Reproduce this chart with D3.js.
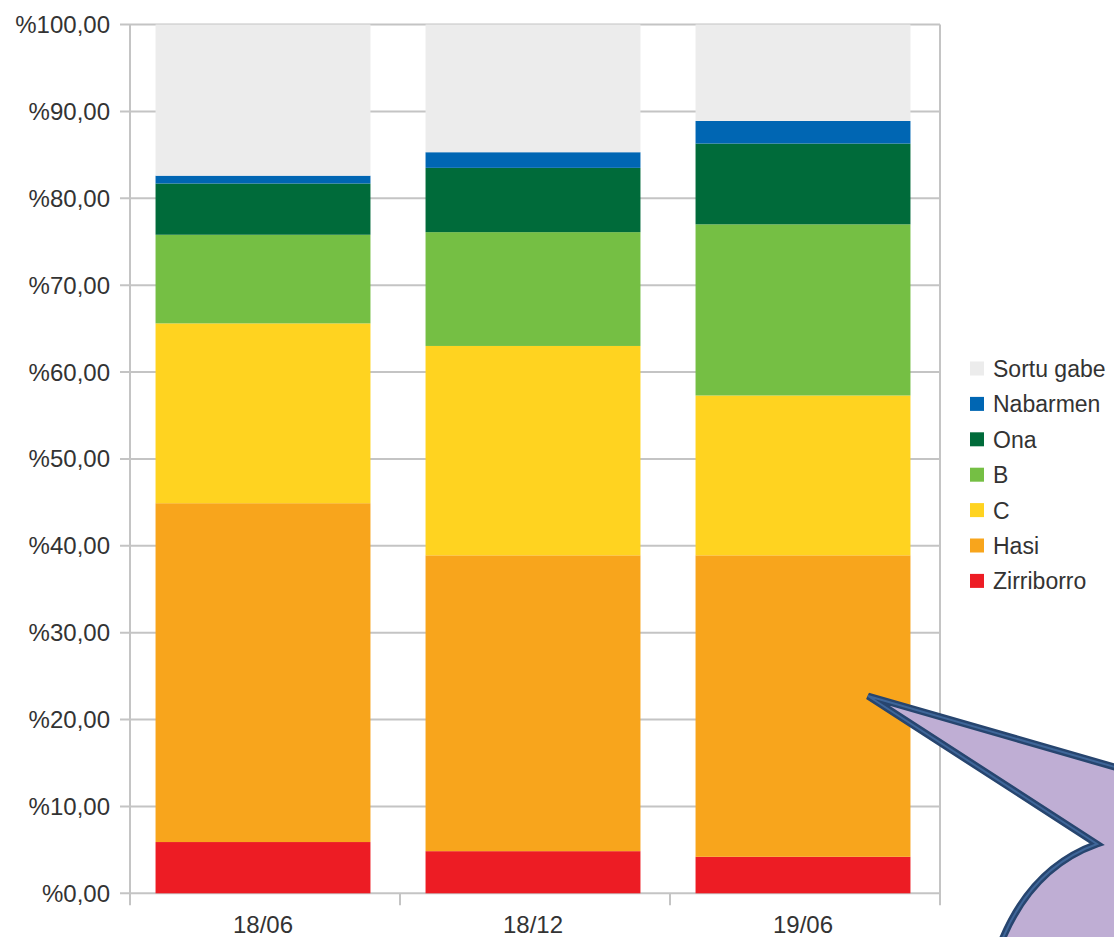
<!DOCTYPE html>
<html>
<head>
<meta charset="utf-8">
<script src="https://cdn.jsdelivr.net/npm/d3@7"></script>
<style>
  html, body { margin: 0; padding: 0; background: #fff; }
  svg { display: block; font-family: "Liberation Sans", Arial, sans-serif; }
</style>
</head>
<body>
<svg id="chart" width="1114" height="937"></svg>
<script>
// categories (x) and stacked series, bottom to top
const periods = ["18/06", "18/12", "19/06"];
const seriesNames = ["Zirriborro", "Hasi", "C", "B", "Ona", "Nabarmen", "Sortu gabe"];
const zirriborro = [5.9, 4.85, 4.2];
const hasi = [39.0, 34.05, 34.7];
const cLevel = [20.7, 24.1, 18.4];
const bLevel = [10.2, 13.1, 19.7];
const ona = [5.9, 7.4, 9.3];
const nabarmen = [0.9, 1.8, 2.6];
const sortuGabe = [17.4, 14.7, 11.1];
const yTicks = [0, 10, 20, 30, 40, 50, 60, 70, 80, 90, 100];

const colors = {
  "Zirriborro": "#ed1c24",
  "Hasi": "#f8a51c",
  "C": "#ffd320",
  "B": "#75bf44",
  "Ona": "#006b3a",
  "Nabarmen": "#0066b3",
  "Sortu gabe": "#ececec"
};

const valuesBySeries = {
  "Zirriborro": zirriborro, "Hasi": hasi, "C": cLevel, "B": bLevel,
  "Ona": ona, "Nabarmen": nabarmen, "Sortu gabe": sortuGabe
};
const rows = periods.map((p, i) => {
  const r = { period: p };
  seriesNames.forEach((s) => (r[s] = valuesBySeries[s][i]));
  return r;
});

const svg = d3.select("#chart");
const L = 130, R = 940, T = 24.5, B = 893.3;

// bars sit a touch left of the category centres in the original
const x = d3.scaleBand().domain(periods).range([L - 2, R - 2]).paddingInner(0.204).paddingOuter(0.102);
const y = d3.scaleLinear().domain([0, 100]).range([B, T]);
const fmt = (v) => "%" + d3.format(".2f")(v).replace(".", ",");

// grid
svg.append("g").selectAll("line").data(yTicks).join("line")
  .attr("x1", L - 10).attr("x2", R).attr("y1", (d) => y(d)).attr("y2", (d) => y(d))
  .attr("stroke", "#c4c4c4").attr("stroke-width", 2);
svg.append("line").attr("x1", L).attr("x2", L).attr("y1", T).attr("y2", B + 12)
  .attr("stroke", "#c4c4c4").attr("stroke-width", 2);
svg.append("line").attr("x1", R).attr("x2", R).attr("y1", T).attr("y2", B + 12)
  .attr("stroke", "#c4c4c4").attr("stroke-width", 2);
// category boundary ticks
const step = (R - L) / periods.length;
svg.append("g").selectAll("line").data(periods.slice(1)).join("line")
  .attr("x1", (d, i) => L + step * (i + 1))
  .attr("x2", (d, i) => L + step * (i + 1))
  .attr("y1", B).attr("y2", B + 12)
  .attr("stroke", "#c4c4c4").attr("stroke-width", 2);

// stacked bars
const stack = d3.stack().keys(seriesNames)(rows);
svg.append("g").selectAll("g").data(stack).join("g")
  .attr("fill", (d) => colors[d.key])
  .selectAll("rect").data((d) => d).join("rect")
  .attr("x", (d) => x(d.data.period))
  .attr("width", x.bandwidth())
  .attr("y", (d) => y(d[1]))
  .attr("height", (d) => y(d[0]) - y(d[1]));

// y labels
svg.append("g").selectAll("text").data(yTicks).join("text")
  .attr("x", 110).attr("y", (d) => y(d) + 8.5)
  .attr("text-anchor", "end").attr("font-size", 24).attr("fill", "#333")
  .text(fmt);

// x labels
svg.append("g").selectAll("text").data(periods).join("text")
  .attr("x", (d) => x(d) + x.bandwidth() / 2).attr("y", 933)
  .attr("text-anchor", "middle").attr("font-size", 24).attr("fill", "#333")
  .text((d) => d);

// legend (top series first)
const legendItems = seriesNames.slice().reverse();
const lg = svg.append("g").selectAll("g").data(legendItems).join("g")
  .attr("transform", (d, i) => `translate(970,${361.5 + i * 35.4})`);
lg.append("rect").attr("width", 14).attr("height", 14).attr("fill", (d) => colors[d]);
lg.append("text").attr("x", 23).attr("y", 15.5).attr("font-size", 23).attr("fill", "#333").text((d) => d);

// speech bubble annotation
const bubble = svg.append("g");
const bubblePath = "M1125,770 L868,696 L1097,844 Q1030,868 1000,945 L1125,945 Z";
bubble.append("path").attr("d", bubblePath).attr("fill", "#bfaed4")
  .attr("stroke", "#27456f").attr("stroke-width", 7).attr("stroke-linejoin", "miter");
bubble.append("path").attr("d", bubblePath).attr("fill", "none")
  .attr("stroke", "#3f6699").attr("stroke-width", 2).attr("stroke-linejoin", "miter");
</script>
</body>
</html>
